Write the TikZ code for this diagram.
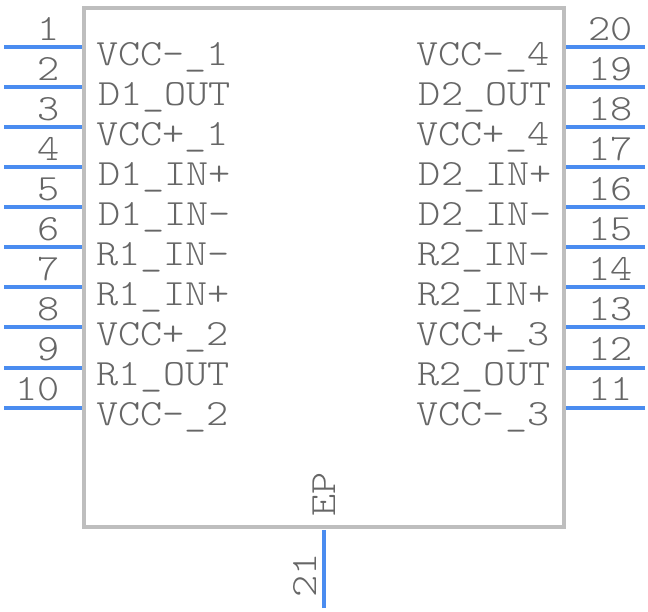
\documentclass[tikz,border=0pt]{standalone}
\usepackage{fontspec}
\setmonofont[FakeStretch=1.14]{Latin Modern Mono Light}
\definecolor{bodygray}{HTML}{BEBEBE}
\definecolor{pinblue}{HTML}{4A8CF0}
\definecolor{textgray}{HTML}{666666}
\tikzset{
    chipbody/.style={draw=bodygray,line width=4pt},
    pinline/.style={draw=pinblue,line width=4pt},
    chiptext/.style={inner sep=0pt,text=textgray,font=\ttfamily\fontsize{37}{37}\selectfont}
}

\begin{document}
\begin{tikzpicture}[x=1pt,y=-1pt]
    \useasboundingbox (0,0) rectangle (648,612);
    \node[inner sep=0pt,minimum width=480pt,minimum height=519pt,chipbody] (chip) at (324,267.5) {};
    % left side
    \foreach \n/\dx/\pinlabel in {1/0/VCC-\_1,2/2/D1\_OUT,3/0/VCC+\_1,4/2/D1\_IN+,5/2/D1\_IN-,6/0.5/R1\_IN-,7/0.5/R1\_IN+,8/0/VCC+\_2,9/0.5/R1\_OUT,10/0/VCC-\_2}{
        \coordinate (pinA\n) at (4,8+40*\n-0.5);
        \coordinate (pinB\n) at (82,8+40*\n-0.5);
        \draw[pinline] (pinA\n) -- (pinB\n);
        \node[chiptext,anchor=base east] (num\n) at (60,0.5+40*\n) {\n};
        \node[chiptext,anchor=base west] (name\n) at (96+\dx,25.5+40*\n) {\pinlabel};
    }
    % right side
    \foreach \n/\row/\dx/\pinlabel in {20/1/0/VCC-\_4,19/2/2.5/D2\_OUT,18/3/0/VCC+\_4,17/4/2.5/D2\_IN+,16/5/2.5/D2\_IN-,15/6/1/R2\_IN-,14/7/1/R2\_IN+,13/8/0/VCC+\_3,12/9/1/R2\_OUT,11/10/0/VCC-\_3}{
        \coordinate (pinA\n) at (645,8+40*\row-0.5);
        \coordinate (pinB\n) at (566,8+40*\row-0.5);
        \draw[pinline] (pinA\n) -- (pinB\n);
        \node[chiptext,anchor=base west] (num\n) at (588,0.5+40*\row) {\n};
        \node[chiptext,anchor=base east] (name\n) at (549.5+\dx,25.5+40*\row) {\pinlabel};
    }
    % exposed pad
    \coordinate (pinA21) at (323.5,608);
    \coordinate (pinB21) at (323.5,530);
    \draw[pinline] (pinA21) -- (pinB21);
    \node[chiptext,rotate=90,anchor=base] (num21) at (316.5,575) {21};
    \node[chiptext,rotate=90,anchor=base] (name21) at (335.5,494) {EP};
\end{tikzpicture}
\end{document}
